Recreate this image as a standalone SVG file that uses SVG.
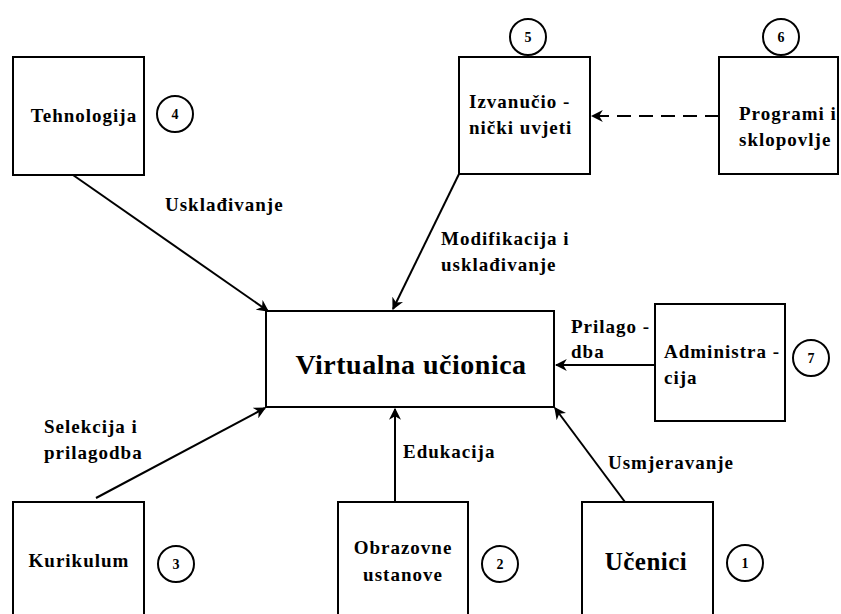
<svg xmlns="http://www.w3.org/2000/svg" width="841" height="614" viewBox="0 0 841 614">
<style>
.box{fill:#fff;stroke:#000;stroke-width:2}
.num{fill:#fff;stroke:#000;stroke-width:2}
.t{font-family:"Liberation Serif","Times New Roman",serif;font-weight:bold;font-size:19px;letter-spacing:1px;fill:#000}
.n{font-family:"Liberation Serif","Times New Roman",serif;font-weight:bold;font-size:14px;fill:#000;text-anchor:middle}
.c{stroke:#000;stroke-width:2;fill:none}
</style>
<defs>
<marker id="ah" viewBox="0 0 10 10" refX="9" refY="5" markerWidth="6" markerHeight="6" orient="auto" markerUnits="strokeWidth">
<path d="M0,0 L10,5 L0,10 L3,5 Z" fill="#000"/>
</marker>
</defs>
<rect width="841" height="614" fill="#fff"/>
<g id="connectors">
<line class="c" x1="73" y1="175" x2="268" y2="311" marker-end="url(#ah)"/>
<line class="c" x1="459" y1="174" x2="393" y2="309" marker-end="url(#ah)"/>
<line class="c" x1="719" y1="116" x2="592" y2="116" stroke-dasharray="14,8" marker-end="url(#ah)"/>
<line class="c" x1="655" y1="365" x2="556" y2="365" marker-end="url(#ah)"/>
<line class="c" x1="96" y1="498" x2="265" y2="408" marker-end="url(#ah)"/>
<line class="c" x1="395" y1="502" x2="395" y2="409" marker-end="url(#ah)"/>
<line class="c" x1="625" y1="502" x2="555" y2="408" marker-end="url(#ah)"/>
<text class="t" x="165" y="211">Usklađivanje</text>
<text class="t" x="441" y="245">Modifikacija i</text>
<text class="t" x="441" y="271">usklađivanje</text>
<text class="t" x="571" y="333">Prilago -</text>
<text class="t" x="571" y="358">dba</text>
<text class="t" x="44" y="433">Selekcija i</text>
<text class="t" x="44" y="459">prilagodba</text>
<text class="t" x="403" y="458">Edukacija</text>
<text class="t" x="608" y="469">Usmjeravanje</text>
</g>
<g id="center">
<rect class="box" x="266" y="311" width="288" height="96"/>
<text x="411" y="374" font-family="Liberation Serif, serif" font-weight="bold" font-size="28" letter-spacing="0.5" text-anchor="middle">Virtualna učionica</text>
</g>
<g id="tehnologija">
<rect class="box" x="13" y="57" width="131" height="118"/>
<text class="t" x="84" y="122" text-anchor="middle">Tehnologija</text>
<circle class="num" cx="175" cy="114" r="18"/>
<text class="n" x="175" y="119">4</text>
</g>
<g id="izvanucioniki">
<rect class="box" x="459" y="57" width="131" height="117"/>
<text class="t" x="469" y="108">Izvanučio -</text>
<text class="t" x="469" y="134">nički uvjeti</text>
<circle class="num" cx="528" cy="37" r="18"/>
<text class="n" x="528" y="42">5</text>
</g>
<g id="programi">
<rect class="box" x="719" y="57" width="119" height="117"/>
<text class="t" x="739" y="120">Programi i</text>
<text class="t" x="739" y="146">sklopovlje</text>
<circle class="num" cx="781" cy="37" r="18"/>
<text class="n" x="781" y="42">6</text>
</g>
<g id="administracija">
<rect class="box" x="655" y="304" width="130" height="117"/>
<text class="t" x="664" y="358">Administra -</text>
<text class="t" x="664" y="384">cija</text>
<circle class="num" cx="811" cy="358" r="18"/>
<text class="n" x="811" y="363">7</text>
</g>
<g id="kurikulum">
<rect class="box" x="13" y="502" width="131" height="130"/>
<text class="t" x="79" y="567" text-anchor="middle">Kurikulum</text>
<circle class="num" cx="176" cy="564" r="18"/>
<text class="n" x="176" y="569">3</text>
</g>
<g id="obrazovne">
<rect class="box" x="338" y="502" width="130" height="130"/>
<text class="t" x="403" y="554" text-anchor="middle">Obrazovne</text>
<text class="t" x="403" y="581" text-anchor="middle">ustanove</text>
<circle class="num" cx="500" cy="564" r="18"/>
<text class="n" x="500" y="569">2</text>
</g>
<g id="ucenici">
<rect class="box" x="582" y="502" width="131" height="130"/>
<text x="646" y="570" font-family="Liberation Serif, serif" font-weight="bold" font-size="25" letter-spacing="0.5" text-anchor="middle">Učenici</text>
<circle class="num" cx="745" cy="563" r="18"/>
<text class="n" x="745" y="568">1</text>
</g>
</svg>
